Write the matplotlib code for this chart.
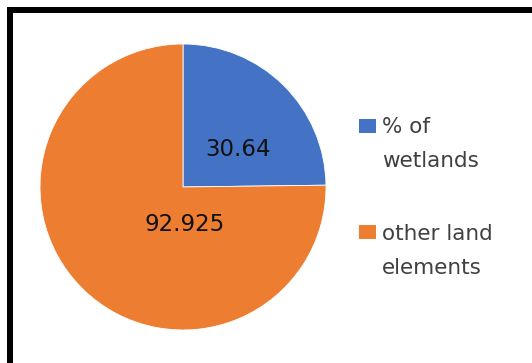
import matplotlib
matplotlib.use("Agg")
import matplotlib.pyplot as plt
from matplotlib.patches import Rectangle

categories = ["% of\nwetlands", "other land\nelements"]
values = [30.64, 92.925]
value_labels = ["30.64", "92.925"]
colors = ["#4472C4", "#ED7D31"]

W, H = 532, 363
fig = plt.figure(figsize=(W / 100, H / 100), dpi=100)
fig.patch.set_facecolor("white")

# pie axes: centre (183,187) px, radius 143 px
cx, cy, r = 183, 187, 143
ax = fig.add_axes([(cx - r) / W, (H - cy - r) / H, 2 * r / W, 2 * r / H])
wedges, _ = ax.pie(values, colors=colors, startangle=90, counterclock=False,
                   radius=1, wedgeprops=dict(linewidth=0.6, edgecolor="white"))
ax.set_xlim(-1, 1)
ax.set_ylim(-1, 1)
ax.set_aspect("equal")
ax.axis("off")

label_pos = [(0.385, 0.282), (0.014, -0.245)]
for (x, y), t in zip(label_pos, value_labels):
    ax.text(x, y, t, ha="center", va="center_baseline", fontsize=16.5,
            family="DejaVu Sans", color="#111111")

# legend (manual so the square aligns with the first text line)
square_tops = [119, 225]
baselines = [133, 240]
step = 34
for top, base, lab, col in zip(square_tops, baselines, categories, colors):
    fig.add_artist(Rectangle((359 / W, 1 - (top + 14) / H), 17 / W, 14 / H,
                             transform=fig.transFigure, facecolor=col,
                             edgecolor="none"))
    for i, line in enumerate(lab.split("\n")):
        fig.text(382 / W, 1 - (base + i * step) / H, line, ha="left",
                 va="baseline", fontsize=15.5, family="DejaVu Sans",
                 color="#404040")

# thick black frame (cropped at right and bottom)
lw_px = 6
fig.add_artist(Rectangle((9.5 / W, -0.2), 1.5, (1 - 10.3 / H) + 0.2,
                         transform=fig.transFigure, fill=False,
                         edgecolor="black", linewidth=lw_px * 72 / 100))

fig.savefig("out.png", dpi=100, facecolor="white")
